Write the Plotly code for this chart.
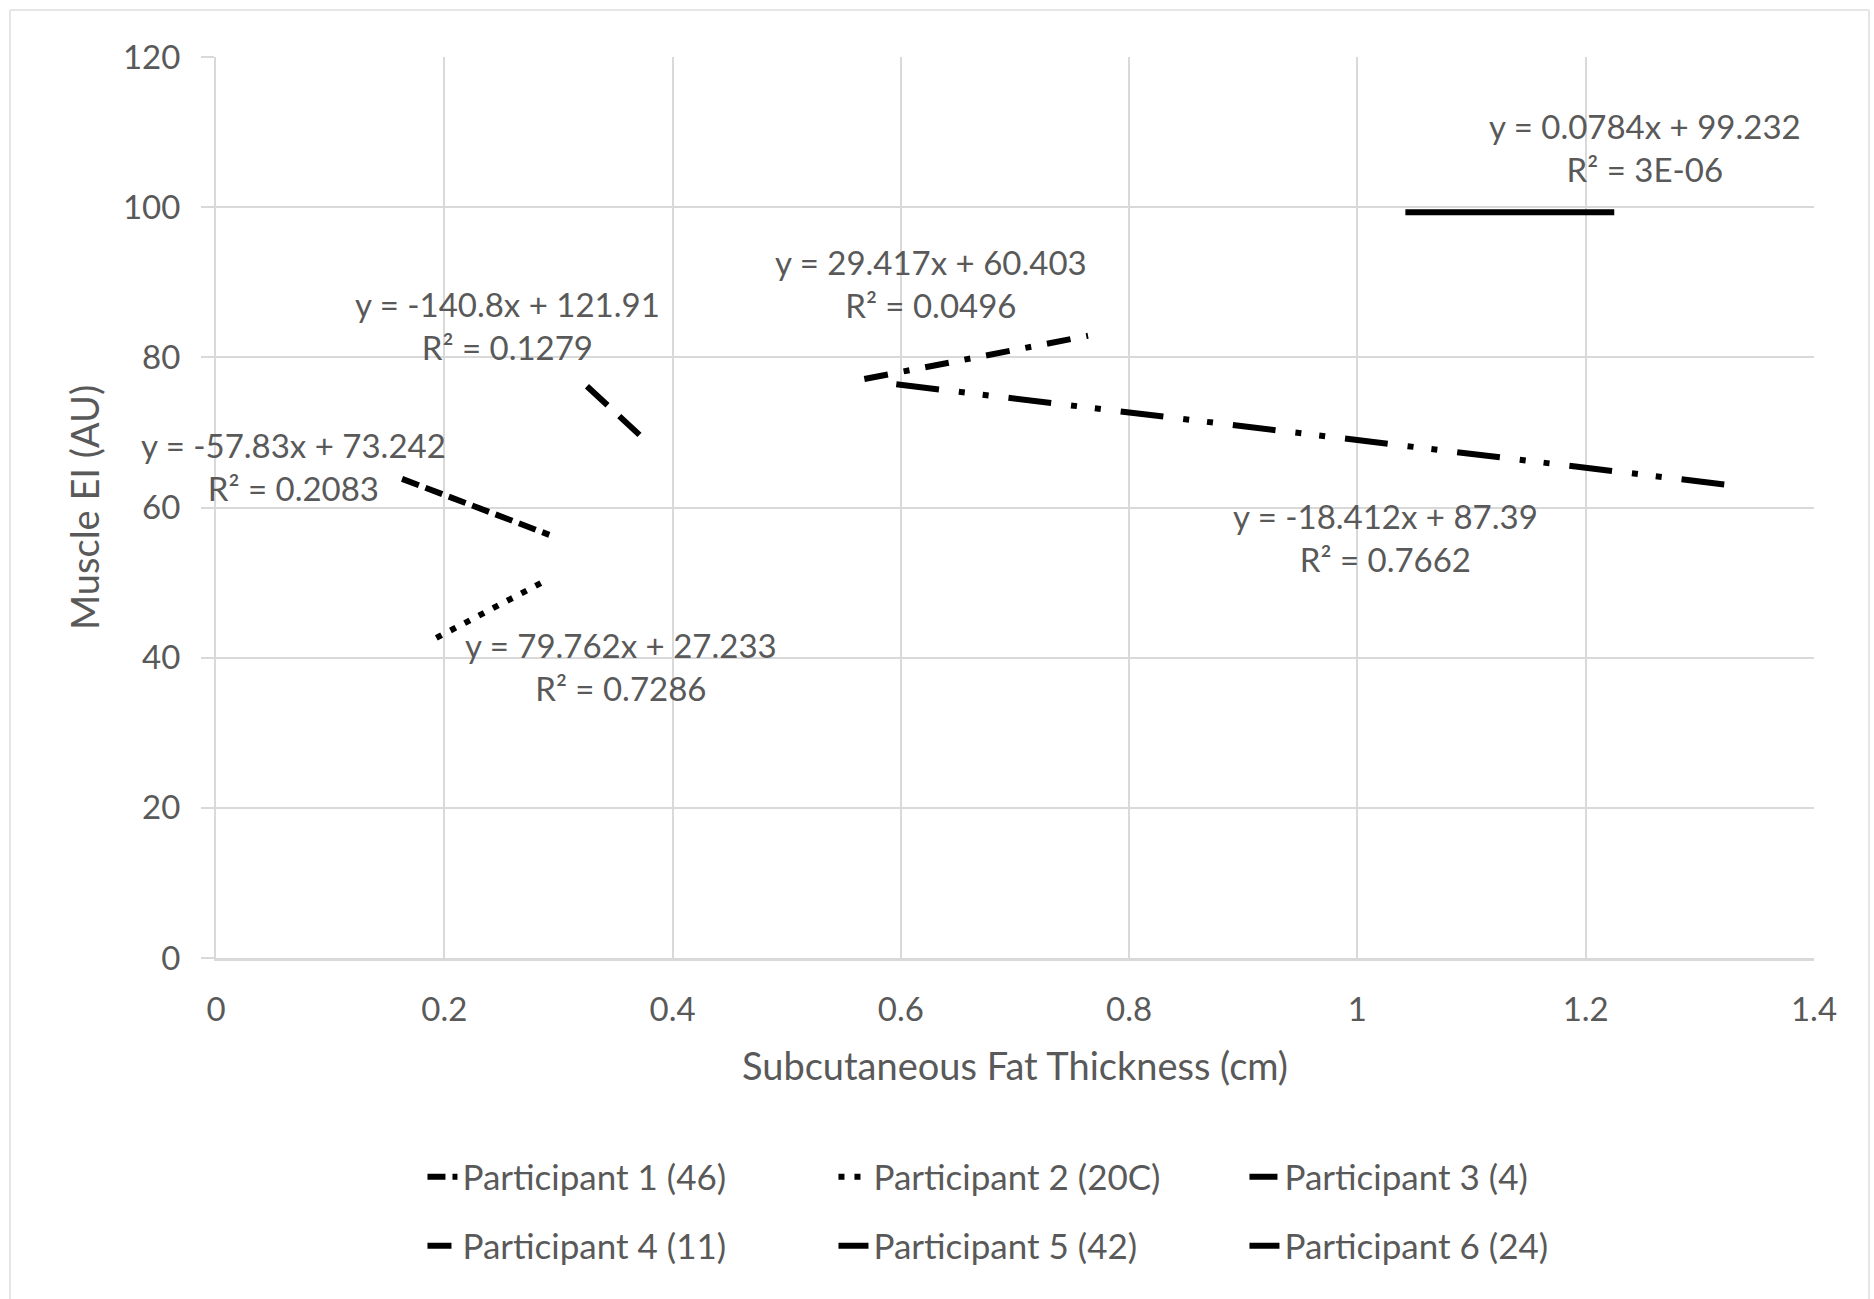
import plotly.graph_objects as go

# ---- data ----
participants = ["Participant 1 (46)", "Participant 2 (20C)", "Participant 3 (4)",
                "Participant 4 (11)", "Participant 5 (42)", "Participant 6 (24)"]
slopes = [-57.83, 79.762, -140.8, 29.417, -18.412, 0.0784]
intercepts = [73.242, 27.233, 121.91, 60.403, 87.39, 99.232]
x_start = [0.163, 0.193, 0.325, 0.568, 0.596, 1.042]
x_end = [0.292, 0.285, 0.371, 0.764, 1.326, 1.225]
eq_labels = ["y = -57.83x + 73.242<br>R² = 0.2083",
             "y = 79.762x + 27.233<br>R² = 0.7286",
             "y = -140.8x + 121.91<br>R² = 0.1279",
             "y = 29.417x + 60.403<br>R² = 0.0496",
             "y = -18.412x + 87.39<br>R² = 0.7662",
             "y = 0.0784x + 99.232<br>R² = 3E-06"]
label_x = [0.068, 0.355, 0.255, 0.626, 1.025, 1.252]
label_y = [65.5, 38.8, 84.2, 89.8, 56.0, 108.0]
x_ticks = [0, 0.2, 0.4, 0.6, 0.8, 1, 1.2, 1.4]
x_tick_text = ["0", "0.2", "0.4", "0.6", "0.8", "1", "1.2", "1.4"]
y_ticks = [0, 20, 40, 60, 80, 100, 120]

# ---- styles ----
dashes = ["18px,7px", "6px,10px", "28px,16px", "24px,16px,6px,16px",
          "43px,20px,6px,18px,6px,20px", "solid"]
widths = [6, 6, 6, 6, 6, 6]
legend_ids = ["legend", "legend", "legend", "legend2", "legend2", "legend2"]

FONT = "Lato"
TXT = "#595959"
GRID = "#d9d9d9"
EQ_SIZE = 33
TICK_SIZE = 33
TITLE_SIZE = 38
LEG_SIZE = 35

fig = go.Figure()
for i, name in enumerate(participants):
    xs = [x_start[i], x_end[i]]
    ys = [slopes[i] * v + intercepts[i] for v in xs]
    fig.add_trace(go.Scatter(
        x=xs, y=ys, mode="lines", name=name,
        line=dict(color="black", width=widths[i], dash=dashes[i]),
        legend=legend_ids[i], showlegend=True,
    ))
    fig.add_annotation(x=label_x[i], y=label_y[i], text=eq_labels[i],
                       showarrow=False, xref="x", yref="y",
                       font=dict(family=FONT, size=EQ_SIZE, color=TXT),
                       align="center")

W, H = 1874, 1299
L, R, T, B = 216, 60, 57, 341
pw, ph = W - L - R, H - T - B

def px_x(p):
    return (p - L) / pw

def px_y(p):
    return (H - B - p) / ph

# faint outer chart border
for x0, y0, x1, y1 in [(10, 10, 10, 1299), (10, 10, 1869, 10), (1869, 10, 1869, 1299)]:
    fig.add_shape(type="line", xref="paper", yref="paper",
                  x0=px_x(x0), y0=px_y(y0), x1=px_x(x1), y1=px_y(y1),
                  line=dict(color="#e6e6e6", width=2), layer="below")

leg_common = dict(orientation="h", xanchor="center", yanchor="middle",
                  entrywidth=366, entrywidthmode="pixels",
                  font=dict(family=FONT, size=LEG_SIZE, color=TXT),
                  bgcolor="rgba(0,0,0,0)")

fig.update_layout(
    width=W, height=H,
    margin=dict(l=L, r=R, t=T, b=B),
    paper_bgcolor="white", plot_bgcolor="white",
    font=dict(family=FONT, size=TICK_SIZE, color=TXT),
    xaxis=dict(range=[0, 1.4], tickvals=x_ticks, ticktext=x_tick_text,
               showgrid=True, gridcolor=GRID, gridwidth=2,
               zeroline=False, showline=True, linecolor=GRID, linewidth=3,
               ticks="", ticklabelstandoff=20,
               title=dict(text="Subcutaneous Fat Thickness (cm)", standoff=27,
                          font=dict(family=FONT, size=TITLE_SIZE, color=TXT)),
               tickfont=dict(family=FONT, size=TICK_SIZE, color=TXT)),
    yaxis=dict(range=[0, 120], tickvals=y_ticks,
               showgrid=True, gridcolor=GRID, gridwidth=2,
               zeroline=False, showline=True, linecolor=GRID, linewidth=2,
               ticks="outside", ticklen=13, tickcolor=GRID, tickwidth=2,
               ticklabelstandoff=14,
               title=dict(text="Muscle EI (AU)", standoff=12,
                          font=dict(family=FONT, size=TITLE_SIZE, color=TXT)),
               tickfont=dict(family=FONT, size=TICK_SIZE, color=TXT)),
    legend=dict(x=0.515, y=px_y(1177), **leg_common),
    legend2=dict(x=0.515, y=px_y(1246), **leg_common),
)

fig.write_html("out.html")
